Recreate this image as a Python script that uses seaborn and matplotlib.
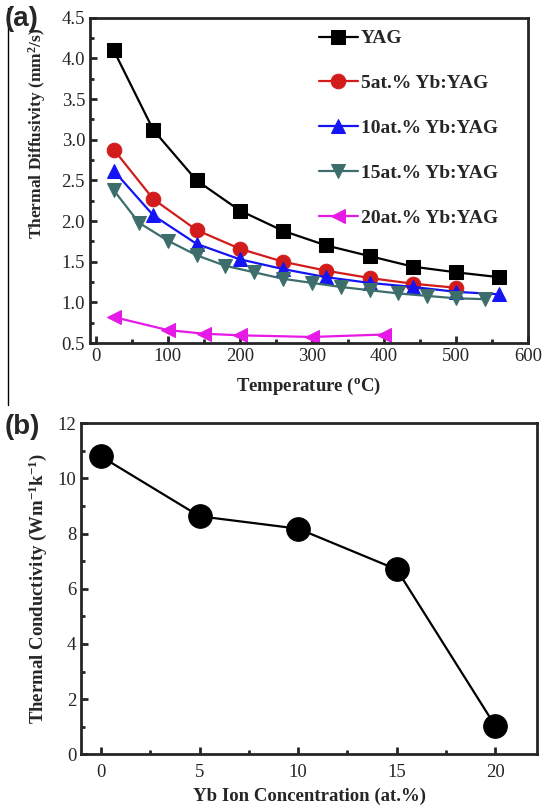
import matplotlib
matplotlib.use("Agg")
import matplotlib.pyplot as plt
import seaborn as sns
import pandas as pd
from matplotlib.lines import Line2D
from matplotlib.ticker import MultipleLocator, FormatStrFormatter

# ---------------- data ----------------
yag_T = [25, 80, 140, 200, 260, 320, 380, 440, 500, 560]
yag_D = [4.10, 3.12, 2.50, 2.13, 1.88, 1.70, 1.57, 1.44, 1.37, 1.31]

yb5_T = [25, 80, 140, 200, 260, 320, 380, 440, 500]
yb5_D = [2.88, 2.27, 1.89, 1.66, 1.50, 1.39, 1.30, 1.23, 1.18]

yb10_T = [25, 80, 140, 200, 260, 320, 380, 440, 500, 560]
yb10_D = [2.62, 2.07, 1.72, 1.53, 1.41, 1.31, 1.24, 1.19, 1.13, 1.10]

yb15_T = [25, 60, 100, 140, 180, 220, 260, 300, 340, 380, 420, 460, 500, 540]
yb15_D = [2.38, 1.98, 1.76, 1.58, 1.45, 1.37, 1.29, 1.24, 1.19, 1.15, 1.11, 1.08, 1.05, 1.04]

yb20_T = [25, 100, 150, 200, 300, 400]
yb20_D = [0.82, 0.66, 0.615, 0.595, 0.575, 0.605]

series_labels = ["YAG", "5at.% Yb:YAG", "10at.% Yb:YAG", "15at.% Yb:YAG", "20at.% Yb:YAG"]
series_colors = ["#000000", "#d21c1c", "#1414f5", "#3d6e6b", "#e619e6"]
series_markers = ["s", "o", "^", "v", "<"]

conc = [0, 5, 10, 15, 20]
conductivity = [10.8, 8.63, 8.18, 6.70, 1.02]

# ---------------- style ----------------
sns.set_style("ticks")
SERIF = ["Liberation Serif", "DejaVu Serif"]
plt.rcParams["font.family"] = SERIF
plt.rcParams["mathtext.fontset"] = "custom"
plt.rcParams["mathtext.rm"] = "Liberation Serif"
plt.rcParams["mathtext.bf"] = "Liberation Serif:bold"
plt.rcParams["mathtext.it"] = "Liberation Serif:bold"
plt.rcParams["mathtext.default"] = "bf"

fig = plt.figure(figsize=(5.45, 8.11), dpi=100)
ax1 = fig.add_axes([0.165, 0.577, 0.804, 0.401])
ax2 = fig.add_axes([0.149, 0.070, 0.836, 0.408])

def style_ax(ax):
    for s in ax.spines.values():
        s.set_linewidth(2.0)
        s.set_visible(True)
    ax.tick_params(which="both", direction="in", width=2.0, labelsize=13.5,
                   top=False, right=False, labelfontfamily="Liberation Serif")
    ax.tick_params(which="major", length=5)
    ax.tick_params(which="minor", length=3)

# ---------------- panel (a) ----------------
all_T = [yag_T, yb5_T, yb10_T, yb15_T, yb20_T]
all_D = [yag_D, yb5_D, yb10_D, yb15_D, yb20_D]
msizes = [9.5, 10.5, 10.5, 10.5, 10.5]
for T, D, lab, col, mk, ms in zip(all_T, all_D, series_labels, series_colors, series_markers, msizes):
    df = pd.DataFrame({"T": T, "D": D})
    sns.lineplot(data=df, x="T", y="D", ax=ax1, color=col, marker=mk, markersize=ms,
                 markeredgecolor=col, linewidth=1.6, label=lab)

ax1.set_xlim(-8, 600)
ax1.set_ylim(0.5, 4.5)
ax1.xaxis.set_major_locator(MultipleLocator(100))
ax1.xaxis.set_minor_locator(MultipleLocator(50))
ax1.yaxis.set_major_locator(MultipleLocator(0.5))
ax1.yaxis.set_minor_locator(MultipleLocator(0.25))
ax1.yaxis.set_major_formatter(FormatStrFormatter("%.1f"))
style_ax(ax1)
ax1.set_xlabel("Temperature ($^{o}$C)", fontsize=13.5, fontweight="bold", labelpad=8)
ax1.set_ylabel("")
fig.text(0.068, 1 - 133 / 811, "Thermal Diffusivity (mm$^{2}$/s)", rotation=90,
         ha="center", va="center", fontsize=12.5, fontweight="bold")

handles, labels = ax1.get_legend_handles_labels()
ax1.legend(handles, labels, loc="upper left", bbox_to_anchor=(0.50, 0.993),
           frameon=False, borderpad=0, handlelength=2.0, handletextpad=0.15,
           labelspacing=1.40, prop={"family": "Liberation Serif", "weight": "bold", "size": 14})

# ---------------- panel (b) ----------------
dfb = pd.DataFrame({"c": conc, "k": conductivity})
sns.lineplot(data=dfb, x="c", y="k", ax=ax2, color="black", marker="o", markersize=17,
             markeredgecolor="black", linewidth=1.6)
ax2.set_xlim(-1, 22.1)
ax2.set_ylim(0, 12)
ax2.xaxis.set_major_locator(MultipleLocator(5))
ax2.xaxis.set_minor_locator(MultipleLocator(2.5))
ax2.yaxis.set_major_locator(MultipleLocator(2))
ax2.yaxis.set_minor_locator(MultipleLocator(1))
style_ax(ax2)
ax2.tick_params(axis="x", pad=7)
ax2.set_xlabel("Yb Ion Concentration (at.%)", fontsize=13.5, fontweight="bold", labelpad=5)
ax2.set_ylabel("Thermal Conductivity (Wm$^{-1}$k$^{-1}$)", fontsize=13.5, fontweight="bold", labelpad=6)

# ---------------- panel letters & stray border line ----------------
fig.text(0.008, 1 - 19 / 811, "(a)", fontsize=20, fontweight="bold",
         family=["Liberation Sans", "DejaVu Sans"], ha="left", va="center")
fig.text(0.008, 1 - 427 / 811, "(b)", fontsize=20, fontweight="bold",
         family=["Liberation Sans", "DejaVu Sans"], ha="left", va="center")
fig.add_artist(Line2D([8 / 545, 8 / 545], [1 - 8 / 811, 1 - 405 / 811],
                      transform=fig.transFigure, color="black", linewidth=1.0))

fig.savefig("out.png", dpi=100)
